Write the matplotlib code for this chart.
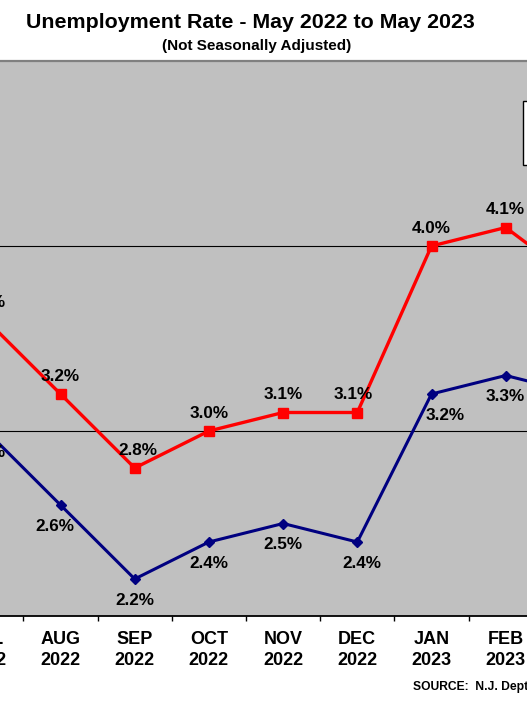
import matplotlib
matplotlib.use('Agg')
import matplotlib.pyplot as plt
from matplotlib.patches import Rectangle

# visible part of the chart: JUL 2022 .. MAR 2023 (edges are cropped)
months = ['JUL', 'AUG', 'SEP', 'OCT', 'NOV', 'DEC', 'JAN', 'FEB', 'MAR']
years = ['2022', '2022', '2022', '2022', '2022', '2022', '2023', '2023', '2023']
red_rate = [3.6, 3.2, 2.8, 3.0, 3.1, 3.1, 4.0, 4.1, 3.8]
blue_rate = [3.0, 2.6, 2.2, 2.4, 2.5, 2.4, 3.2, 3.3, 3.2]

plt.rcParams['font.family'] = ['Liberation Sans', 'DejaVu Sans']
plt.rcParams['font.weight'] = 'bold'

W, H = 527, 703
fig = plt.figure(figsize=(W / 100, H / 100), dpi=100)
fig.patch.set_facecolor('white')

# plot area in pixels: top 61, bottom 616, full width
ax = fig.add_axes([0, (H - 616) / H, 1, 555 / H])
ax.set_facecolor('#c0c0c0')

x = list(range(len(months)))
ax.plot(x, red_rate, color='#ff0000', lw=2.4, marker='s', ms=7.2,
        mec='#ff0000', mfc='#ff0000', zorder=4, clip_on=True)
ax.plot(x, blue_rate, color='#000080', lw=2.2, marker='D', ms=5,
        mec='#000080', mfc='#000080', zorder=3, clip_on=True)

# gridlines
ax.set_yticks([3, 4])
ax.yaxis.grid(True, color='black', lw=0.8)
ax.set_axisbelow(True)
ax.tick_params(axis='y', left=False, labelleft=False)

# category boundary ticks
ax.set_xticks([i + 0.5 for i in x])
ax.tick_params(axis='x', direction='out', length=3.3, width=1,
               color='black', labelbottom=False)

# limits last, set_xticks would widen them otherwise
step = 74.2      # px per category
first = -13.7    # px position of first category
ax.set_xlim(-first / step, (W - first) / step)
ax.set_ylim(2, 5)

for s in ['left', 'right']:
    ax.spines[s].set_visible(False)
ax.spines['top'].set_color('#808080')
ax.spines['top'].set_linewidth(1.6)
ax.spines['bottom'].set_color('black')
ax.spines['bottom'].set_linewidth(1.3)

# category labels (drawn by hand so the cropped ones still show)
for i, (m, yr) in enumerate(zip(months, years)):
    ax.annotate(m, (i, 0), xycoords=('data', 'axes fraction'),
                xytext=(0, -20.5), textcoords='offset points',
                ha='center', va='baseline', fontsize=13, fontweight='bold',
                annotation_clip=False)
    ax.annotate(yr, (i, 0), xycoords=('data', 'axes fraction'),
                xytext=(0, -35.6), textcoords='offset points',
                ha='center', va='baseline', fontsize=13, fontweight='bold',
                annotation_clip=False)

# data labels, red above, blue below
red_nudge = {5: -2.9, 2: 2.0}
blue_nudge = {1: -4.3, 5: 3.6, 6: 10.0}
for i, v in enumerate(red_rate):
    ax.annotate(f'{v:.1f}%', (i, v), xytext=(red_nudge.get(i, 0), 9.4),
                textcoords='offset points', ha='center', va='baseline',
                fontsize=12.3, fontweight='bold', annotation_clip=False,
                zorder=5)
for i, v in enumerate(blue_rate):
    ax.annotate(f'{v:.1f}%', (i, v), xytext=(blue_nudge.get(i, 0), -18.4),
                textcoords='offset points', ha='center', va='baseline',
                fontsize=12.3, fontweight='bold', annotation_clip=False,
                zorder=5)

# legend box (cropped at the right edge)
fig.add_artist(Rectangle((523.3 / W, 1 - 165 / H), 0.05, 64.3 / H,
                         transform=fig.transFigure, facecolor='white',
                         edgecolor='black', lw=1, zorder=5))

fig.text(250.8 / W, 1 - 27.6 / H, 'Unemployment Rate - May 2022 to May 2023',
         ha='center', va='baseline', fontsize=15.4, fontweight='bold')
fig.text(256.7 / W, 1 - 50.4 / H, '(Not Seasonally Adjusted)',
         ha='center', va='baseline', fontsize=11, fontweight='bold')
fig.text(413.3 / W, 1 - 690 / H,
         'SOURCE:  N.J. Dept. of Labor and Workforce Development',
         ha='left', va='baseline', fontsize=8.7, fontweight='bold')

fig.savefig('out.png', dpi=100)
